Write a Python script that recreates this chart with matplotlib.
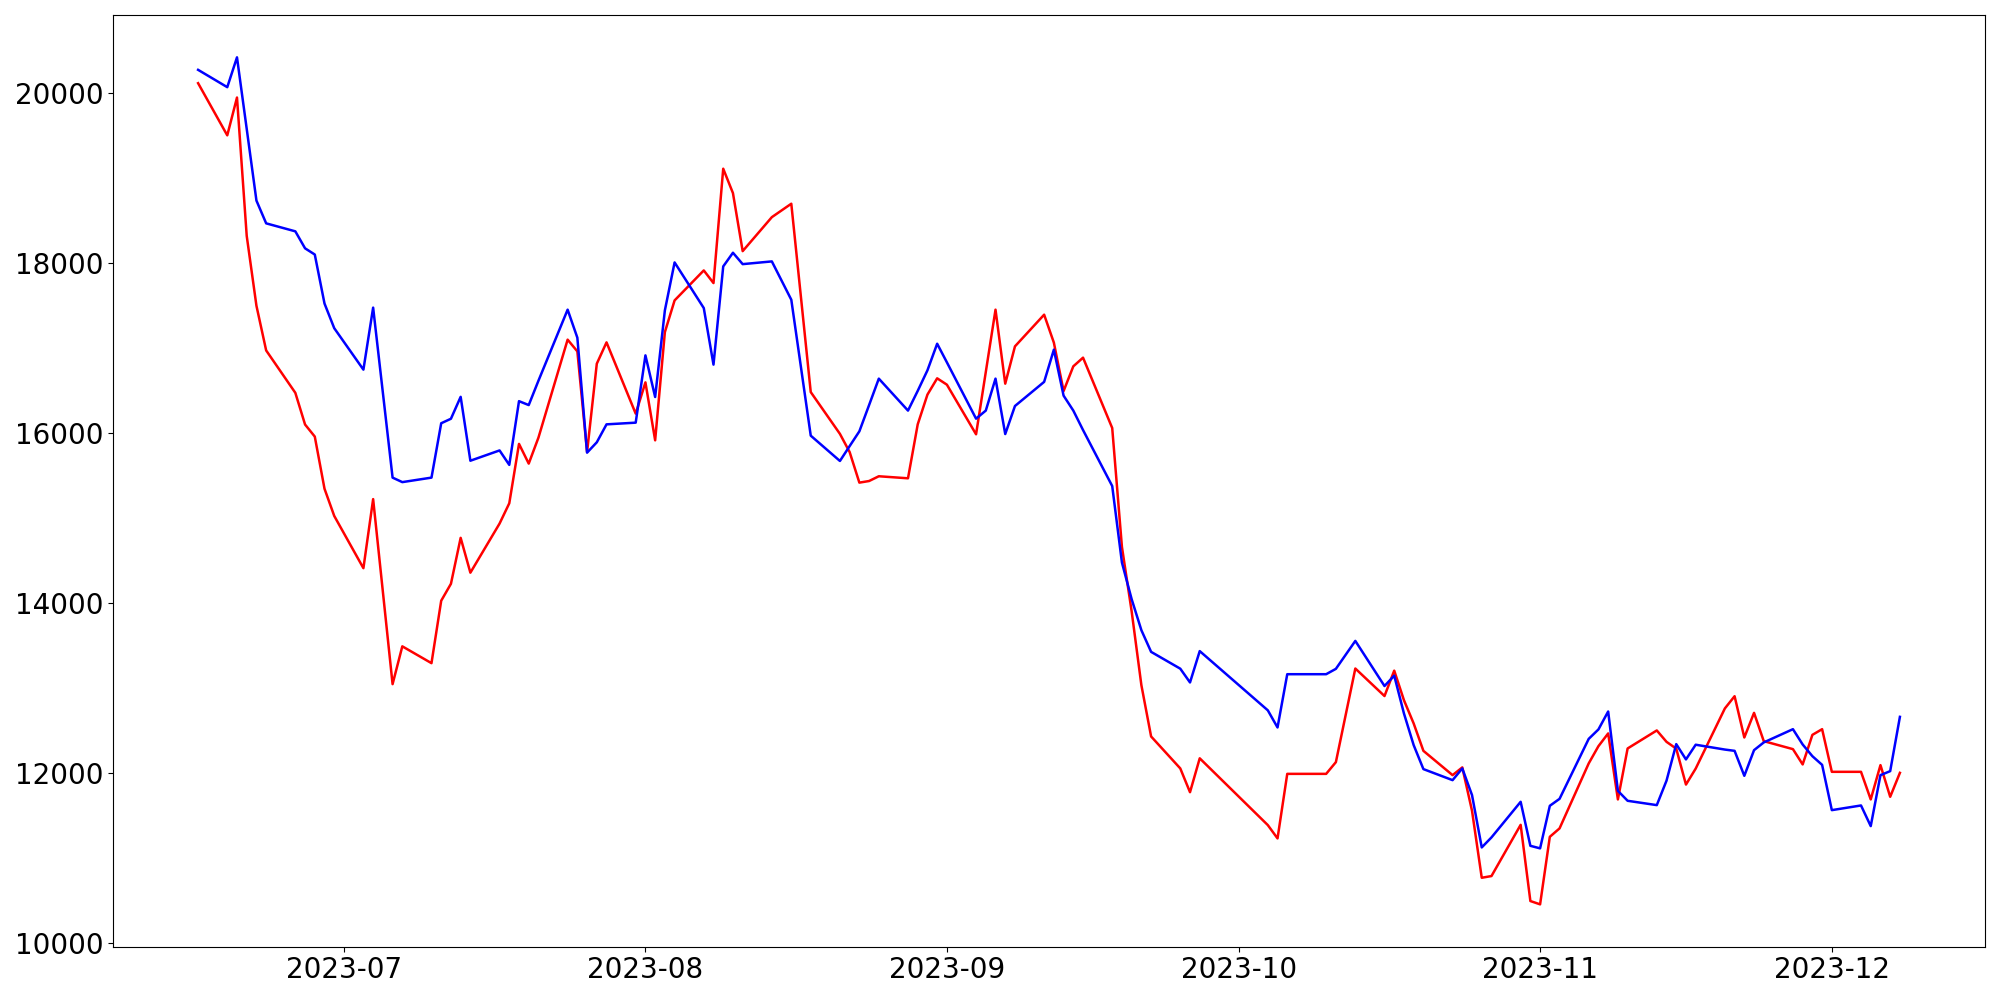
import matplotlib
matplotlib.use("Agg")
import matplotlib.pyplot as plt
import pandas as pd

dates = [
    "2023-06-16", "2023-06-19", "2023-06-20", "2023-06-21", "2023-06-22", "2023-06-23",
    "2023-06-26", "2023-06-27", "2023-06-28", "2023-06-29", "2023-06-30",
    "2023-07-03", "2023-07-04", "2023-07-06", "2023-07-07",
    "2023-07-10", "2023-07-11", "2023-07-12", "2023-07-13", "2023-07-14",
    "2023-07-17", "2023-07-18", "2023-07-19", "2023-07-20", "2023-07-21",
    "2023-07-24", "2023-07-25", "2023-07-26", "2023-07-27", "2023-07-28",
    "2023-07-31", "2023-08-01", "2023-08-02", "2023-08-03", "2023-08-04",
    "2023-08-07", "2023-08-08", "2023-08-09", "2023-08-10", "2023-08-11",
    "2023-08-14", "2023-08-16", "2023-08-18",
    "2023-08-21", "2023-08-22", "2023-08-23", "2023-08-24", "2023-08-25",
    "2023-08-28", "2023-08-29", "2023-08-30", "2023-08-31", "2023-09-01",
    "2023-09-04", "2023-09-05", "2023-09-06", "2023-09-07", "2023-09-08",
    "2023-09-11", "2023-09-12", "2023-09-13", "2023-09-14", "2023-09-15",
    "2023-09-18", "2023-09-19", "2023-09-20", "2023-09-21", "2023-09-22",
    "2023-09-25", "2023-09-26", "2023-09-27",
    "2023-10-04", "2023-10-05", "2023-10-06",
    "2023-10-10", "2023-10-11", "2023-10-13",
    "2023-10-16", "2023-10-17", "2023-10-18", "2023-10-19", "2023-10-20",
    "2023-10-23", "2023-10-24", "2023-10-25", "2023-10-26", "2023-10-27",
    "2023-10-30", "2023-10-31", "2023-11-01", "2023-11-02", "2023-11-03",
    "2023-11-06", "2023-11-07", "2023-11-08", "2023-11-09", "2023-11-10",
    "2023-11-13", "2023-11-14", "2023-11-15", "2023-11-16", "2023-11-17",
    "2023-11-20", "2023-11-21", "2023-11-22", "2023-11-23", "2023-11-24",
    "2023-11-27", "2023-11-28", "2023-11-29", "2023-11-30", "2023-12-01",
    "2023-12-04", "2023-12-05", "2023-12-06", "2023-12-07", "2023-12-08",
]

red_values = [
    20118, 19504, 19949, 18321, 17498, 16972,
    16473, 16100, 15958, 15344, 15024,
    14409, 15222, 13044, 13489,
    13291, 14026, 14225, 14766, 14356,
    14934, 15173, 15872, 15640, 15946,
    17099, 16961, 15776, 16816, 17067,
    16228, 16596, 15914, 17188, 17561,
    17914, 17765, 19111, 18824, 18141,
    18541, 18699, 16482,
    15990, 15776, 15416, 15435, 15491,
    15467, 16102, 16452, 16644, 16569,
    15985, 16718, 17452, 16581, 17020,
    17393, 17064, 16494, 16785, 16887,
    16059, 14659, 13900, 13032, 12428,
    12052, 11772, 12171,
    11385, 11228, 11988,
    11988, 12126, 13228,
    12904, 13203, 12855, 12581, 12259,
    11973, 12064, 11553, 10765, 10785,
    11388, 10491, 10452, 11247, 11346,
    12111, 12314, 12464, 11687, 12287,
    12499, 12365, 12285, 11862, 12050,
    12758, 12902, 12416, 12706, 12373,
    12279, 12099, 12447, 12514, 12012,
    12012, 11687, 12091, 11718, 12000,
]

blue_values = [
    20275, 20071, 20422, 19580, 18736, 18468,
    18374, 18174, 18101, 17524, 17234,
    16746, 17476, 15475, 15422,
    15475, 16115, 16168, 16426, 15674,
    15795, 15625, 16375, 16329, 16616,
    17452, 17122, 15769, 15891, 16102,
    16122, 16914, 16424, 17444, 18008,
    17471, 16805, 17961, 18122, 17988,
    18020, 17569, 15969,
    15671, 15846, 16020, 16329, 16640,
    16264, 16496, 16738, 17051, 16832,
    16169, 16264, 16640, 15988, 16318,
    16602, 16981, 16440, 16264, 16035,
    15376, 14475, 14044, 13679, 13424,
    13226, 13064, 13433,
    12736, 12534, 13161,
    13161, 13224, 13553,
    13022, 13144, 12699, 12326, 12044,
    11914, 12052, 11738, 11122, 11240,
    11659, 11141, 11111, 11612, 11694,
    12400, 12511, 12722, 11788, 11671,
    11620, 11908, 12338, 12158, 12331,
    12274, 12259, 11965, 12267, 12358,
    12514, 12334, 12196, 12094, 11561,
    11616, 11373, 11973, 12020, 12659,
]

x = pd.to_datetime(dates)

fig = plt.figure(figsize=(20, 10), dpi=100)
ax = fig.add_axes([0.0565, 0.0533, 0.936, 0.9317])
ax.plot(x, red_values, color="red", linewidth=1.8)
ax.plot(x, blue_values, color="blue", linewidth=1.8)
ax.tick_params(axis="both", labelsize=20)
fig.savefig("out.png", dpi=100)
